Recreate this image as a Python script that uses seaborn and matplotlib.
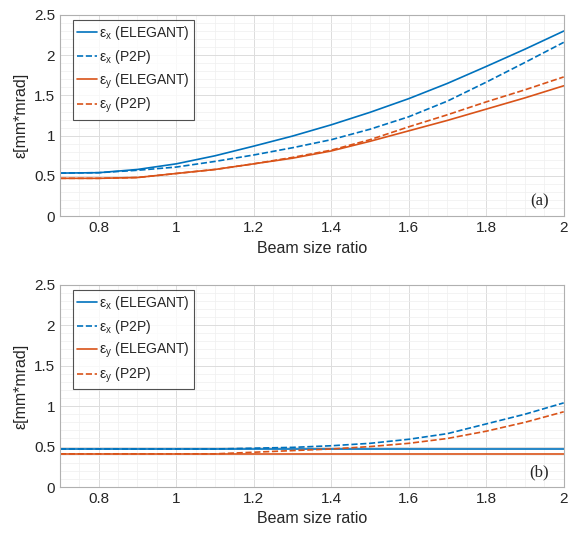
import numpy as np
import pandas as pd
import matplotlib
matplotlib.use("Agg")
import matplotlib.pyplot as plt
from matplotlib.ticker import MultipleLocator
import seaborn as sns

ratio = [0.7, 0.8, 0.9, 1.0, 1.1, 1.2, 1.3, 1.4, 1.5, 1.6, 1.7, 1.8, 1.9, 2.0]

# panel (a)
ex_elegant_a = [0.535, 0.54, 0.58, 0.65, 0.75, 0.87, 0.995, 1.135, 1.29, 1.46, 1.65, 1.86, 2.075, 2.30]
ex_p2p_a = [0.535, 0.54, 0.57, 0.61, 0.68, 0.76, 0.85, 0.95, 1.08, 1.235, 1.43, 1.665, 1.91, 2.16]
ey_elegant_a = [0.47, 0.47, 0.48, 0.53, 0.58, 0.65, 0.72, 0.81, 0.93, 1.06, 1.19, 1.33, 1.47, 1.62]
ey_p2p_a = [0.47, 0.47, 0.48, 0.53, 0.58, 0.65, 0.73, 0.82, 0.95, 1.11, 1.26, 1.42, 1.57, 1.73]

# panel (b)
ex_elegant_b = [0.47] * 14
ex_p2p_b = [0.47, 0.47, 0.47, 0.47, 0.47, 0.48, 0.49, 0.51, 0.54, 0.59, 0.66, 0.78, 0.90, 1.04]
ey_elegant_b = [0.41] * 14
ey_p2p_b = [0.41, 0.41, 0.41, 0.41, 0.41, 0.43, 0.45, 0.47, 0.50, 0.54, 0.60, 0.69, 0.80, 0.93]

labels = [r"ε$_{\mathrm{x}}$ (ELEGANT)", r"ε$_{\mathrm{x}}$ (P2P)",
          r"ε$_{\mathrm{y}}$ (ELEGANT)", r"ε$_{\mathrm{y}}$ (P2P)"]
panel_tags = ["(a)", "(b)"]

blue = "#0072BD"
orange = "#D95319"
colors = [blue, blue, orange, orange]
styles = ["-", "--", "-", "--"]

sns.set_theme(style="white")
plt.rcParams["font.family"] = ["Liberation Sans", "DejaVu Sans"]
plt.rcParams["mathtext.fontset"] = "custom"
plt.rcParams["mathtext.rm"] = "Liberation Sans"

fig = plt.figure(figsize=(5.79, 5.35), dpi=100)
ax1 = fig.add_axes([0.1036, 0.596, 0.870, 0.376])
ax2 = fig.add_axes([0.1036, 0.0897, 0.870, 0.378])

panels = [
    (ax1, [ex_elegant_a, ex_p2p_a, ey_elegant_a, ey_p2p_a]),
    (ax2, [ex_elegant_b, ex_p2p_b, ey_elegant_b, ey_p2p_b]),
]

for (ax, series), tag in zip(panels, panel_tags):
    for vals, lab, c, ls in zip(series, labels, colors, styles):
        df = pd.DataFrame({"x": ratio, "y": vals})
        sns.lineplot(data=df, x="x", y="y", ax=ax, color=c, linestyle=ls,
                     linewidth=1.2, label=lab)
    ax.set_xlim(0.7, 2.0)
    ax.set_ylim(0, 2.5)
    ax.xaxis.set_minor_locator(MultipleLocator(0.05))
    ax.yaxis.set_minor_locator(MultipleLocator(0.1))
    ax.set_xticks([0.8, 1.0, 1.2, 1.4, 1.6, 1.8, 2.0])
    ax.set_xticklabels(["0.8", "1", "1.2", "1.4", "1.6", "1.8", "2"])
    ax.set_yticks([0, 0.5, 1, 1.5, 2, 2.5])
    ax.set_yticklabels(["0", "0.5", "1", "1.5", "2", "2.5"])
    ax.grid(which="major", color="#dcdcdc", linewidth=0.7)
    ax.grid(which="minor", color="#efefef", linewidth=0.5)
    ax.set_axisbelow(True)
    ax.tick_params(which="both", direction="in", colors="#262626",
                   labelsize=11, length=3)
    ax.tick_params(which="minor", length=0)
    for sp in ax.spines.values():
        sp.set_color("#b0b0b0")
        sp.set_linewidth(0.8)
    ax.set_xlabel("Beam size ratio", fontsize=11.5, color="#262626")
    ax.set_ylabel("ε[mm*mrad]", fontsize=11.5, color="#262626")
    leg = ax.legend(loc="upper left", bbox_to_anchor=(0.026, 0.975),
                    fontsize=10, frameon=True, fancybox=False,
                    edgecolor="#262626", handlelength=1.4, handletextpad=0.15,
                    borderpad=0.3, labelspacing=0.4, borderaxespad=0.0)
    leg.get_frame().set_linewidth(0.8)
    ax.text(0.97, 0.035, tag, transform=ax.transAxes, ha="right", va="bottom",
            fontsize=12, family=["Liberation Serif", "DejaVu Serif"], color="#262626")

fig.savefig("out.png", dpi=100, facecolor="white")
